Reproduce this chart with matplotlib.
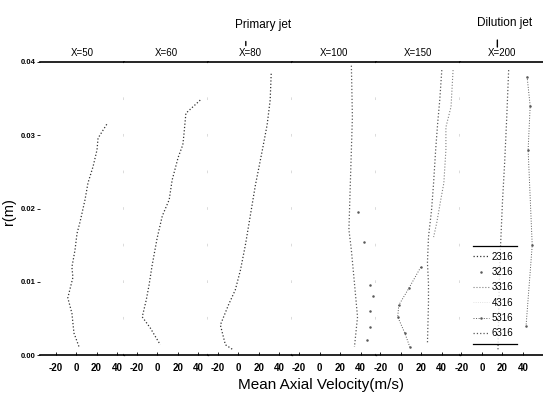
"""Radial profiles of mean axial velocity at six axial stations."""

import matplotlib.pyplot as plt
from matplotlib.lines import Line2D

plt.rcParams['font.family'] = ['Liberation Sans', 'DejaVu Sans']

# axial stations (mm) and the measurement series shown in the legend
stations = ['X=50', 'X=60', 'X=80', 'X=100', 'X=150', 'X=200']
series_names = ['2316', '3216', '3316', '4316', '5316', '6316']
vel_ticks = [-20, 0, 20, 40]
r_ticks = [0.00, 0.01, 0.02, 0.03, 0.04]

# radial profiles: r in m, u in m/s
r_x50 = [0.0315, 0.0296, 0.0280, 0.0257, 0.0235, 0.0212, 0.0182, 0.0166,
         0.0143, 0.0120, 0.0106, 0.0078, 0.0057, 0.0030, 0.0011]
u_x50 = [30, 21.5, 20.5, 16.6, 11.7, 8.8, 4, 1, -1, -4, -3, -8, -4, -2, 3]

r_x60 = [0.0348, 0.0330, 0.0300, 0.0287, 0.0270, 0.0239, 0.0212, 0.0190,
         0.0160, 0.0122, 0.0095, 0.0075, 0.0052, 0.0037, 0.0014]
u_x60 = [42, 28, 26, 25, 20.5, 14.6, 11.7, 5, 0, -5, -8, -10.7, -14.6, -6.8, 3]

r_x80 = [0.0384, 0.0348, 0.0314, 0.0280, 0.0232, 0.0191, 0.0150, 0.0116,
         0.0089, 0.0068, 0.0041, 0.0014, 0.0007]
u_x80 = [32, 31, 28, 23.4, 16.6, 11.7, 6.8, 2, -3, -9.8, -17.6, -12.7, -5]

r_x100 = [0.0395, 0.0325, 0.0280, 0.0235, 0.0171, 0.0143, 0.0098, 0.0052, 0.0011]
u_x100 = [31, 32, 31, 30, 28.6, 31, 34, 37, 34]
r_x100b = [0.0195, 0.0154, 0.0096, 0.0080, 0.0060, 0.0038, 0.0020]
u_x100b = [37, 43, 49, 52, 49, 49, 46]

r_x150 = [0.0389, 0.0348, 0.0317, 0.0280, 0.0235, 0.0198, 0.0161, 0.0126,
          0.0098, 0.0071, 0.0016]
u_x150 = [40, 38, 36, 34, 32, 30, 27, 26, 27, 27, 26]
r_x150b = [0.0389, 0.0339, 0.0311, 0.0280, 0.0235, 0.0212, 0.0180, 0.0161]
u_x150b = [51, 49, 44, 44, 42, 39, 35, 32]
r_x150c = [0.0120, 0.0091, 0.0068, 0.0052, 0.0030, 0.0011]
u_x150c = [19.5, 7.8, -2, -3, 3.9, 8.8]

r_x200 = [0.0389, 0.0320, 0.0260, 0.0210, 0.0130, 0.0075, 0.0007]
u_x200 = [26, 24, 22, 20, 17.5, 16.5, 15.6]
r_x200b = [0.0380, 0.0340, 0.0280, 0.0150, 0.0040]
u_x200b = [44, 47, 45, 49, 43]

# (series index, r, u) per station
profiles = [
    [(0, r_x50, u_x50)],
    [(0, r_x60, u_x60)],
    [(0, r_x80, u_x80)],
    [(5, r_x100, u_x100), (1, r_x100b, u_x100b)],
    [(5, r_x150, u_x150), (2, r_x150b, u_x150b), (4, r_x150c, u_x150c)],
    [(5, r_x200, u_x200), (4, r_x200b, u_x200b)],
]

SERIES_STYLE = [
    dict(color='0.2', ls=':', lw=0.9),
    dict(color='0.35', ls='none', marker='.', ms=1.6),
    dict(color='0.5', ls=':', lw=0.8),
    dict(color='0.85', ls=':', lw=0.6),
    dict(color='0.35', ls=':', lw=0.7, marker='.', ms=1.6),
    dict(color='0.35', ls=':', lw=0.9),
]

# layout in pixels
FIG_W, FIG_H = 543, 403
LEFT, PANEL_W = 40, 84
TOP, BOTTOM = 62, 355
PX_PER_MS = 1.025
ZERO_0, ZERO_STEP = 76, 81.2

fig = plt.figure(figsize=(FIG_W / 100, FIG_H / 100), dpi=100)

axes = []
for k, station in enumerate(stations):
    left = LEFT + k * PANEL_W
    width = min(PANEL_W, FIG_W - left)
    zero = ZERO_0 + k * ZERO_STEP
    ax = fig.add_axes([left / FIG_W, 1 - BOTTOM / FIG_H,
                       width / FIG_W, (BOTTOM - TOP) / FIG_H])
    ax.set_xlim((left - zero) / PX_PER_MS, (left + width - zero) / PX_PER_MS)
    ax.set_ylim(0, 0.04)
    for idx, r, u in profiles[k]:
        ax.plot(u, r, **SERIES_STYLE[idx])

    ax.set_xticks(vel_ticks)
    ax.set_xticklabels([str(v) for v in vel_ticks], fontsize=7,
                       fontweight='bold')
    ax.tick_params(axis='x', direction='in', length=2, width=0.6, pad=6)
    ax.spines['left'].set_visible(False)
    ax.spines['top'].set_linewidth(1.2)
    ax.spines['bottom'].set_linewidth(1.2)
    if k < len(stations) - 1:
        # sparse dotted separator, one dot every 0.005 m
        ax.spines['right'].set_linestyle((0, (0.9, 25.45)))
        ax.spines['right'].set_color('0.3')
        ax.spines['right'].set_linewidth(1.0)
    else:
        ax.spines['right'].set_visible(False)

    if k == 0:
        ax.set_yticks(r_ticks)
        ax.set_yticklabels([f'{v:.2f}' for v in r_ticks], fontsize=5.5,
                           fontweight='bold')
        ax.tick_params(axis='y', direction='out', length=2, width=0.6, pad=1.5)
    else:
        ax.set_yticks([])
    ax.set_title(station, fontsize=7, pad=4)
    axes.append(ax)

# jet locations, with a short pointer above the station they enter at
for k, label, x_px, y_px, y_lo, y_hi in [(2, 'Primary jet', 263, 25, 1.056, 1.070),
                                         (5, 'Dilution jet', 505, 23, 1.051, 1.075)]:
    fig.text(x_px / FIG_W, 1 - y_px / FIG_H, label, fontsize=8.5,
             ha='center', va='center')
    axes[k].annotate('', xy=(0.45, y_lo), xytext=(0.45, y_hi),
                     xycoords='axes fraction',
                     arrowprops=dict(arrowstyle='-', lw=1.0, color='k',
                                     shrinkA=0, shrinkB=0))

fig.text(321 / FIG_W, 1 - 385 / FIG_H, 'Mean Axial Velocity(m/s)',
         fontsize=11, ha='center', va='center')
fig.text(9 / FIG_W, 1 - 212 / FIG_H, 'r(m)', fontsize=10.5, rotation=90,
         ha='center', va='center')

handles = [Line2D([], [], **SERIES_STYLE[i]) for i in range(len(series_names))]
leg = axes[5].legend(handles, series_names, loc='lower left',
                     bbox_to_anchor=(0.03, 0.02), fontsize=7,
                     handlelength=1.6, handletextpad=0.3, labelspacing=0.55,
                     borderpad=0.6, frameon=True, fancybox=False)
leg.get_frame().set_edgecolor('none')

# the legend box only carries rules above and below the entries
fig.canvas.draw()
bb = leg.get_window_extent().transformed(fig.transFigure.inverted())
for y in (bb.y0, bb.y1):
    fig.add_artist(Line2D([bb.x0 + 0.01, bb.x1 - 0.005], [y, y],
                          transform=fig.transFigure, color='k', lw=0.9))

fig.savefig('out.png', dpi=100)
